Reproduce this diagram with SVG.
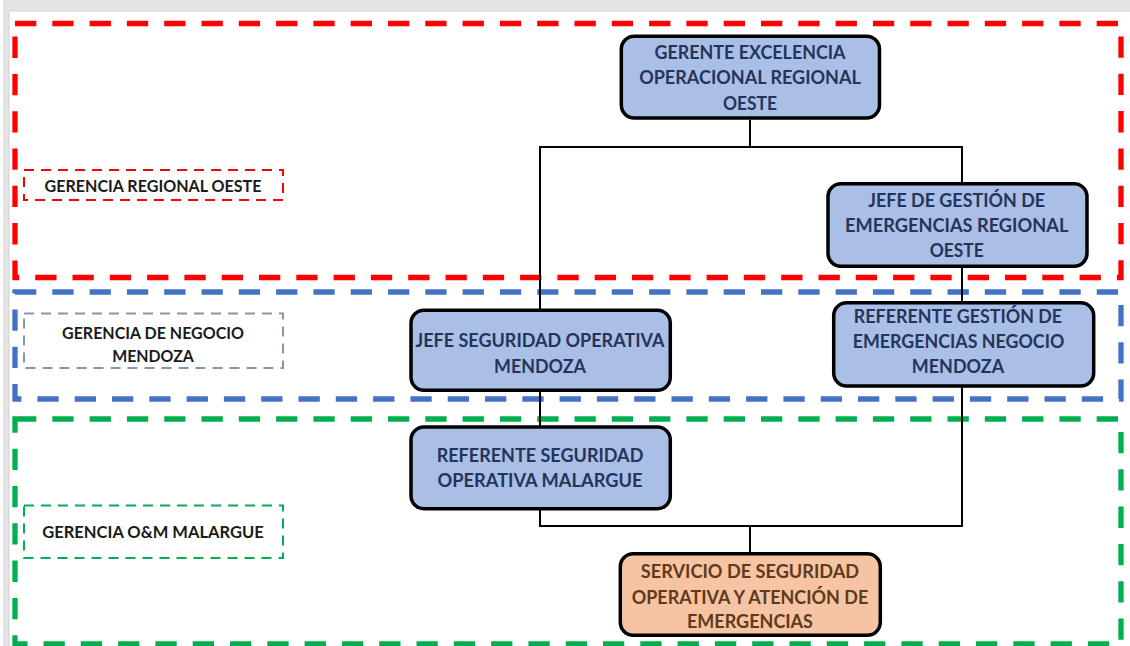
<svg xmlns="http://www.w3.org/2000/svg" width="1130" height="646" viewBox="0 0 1130 646">
  <style>
    .frame { fill: none; stroke-width: 5.3; stroke-dasharray: 21.3 16; }
    .tag { fill: #ffffff; stroke-width: 2; stroke-dasharray: 10 7; }
    .tagtxt { font-family: Lato, "Liberation Sans", sans-serif; font-weight: bold; font-size: 17.5px; fill: #1a1a1a; text-anchor: middle; }
    .box { fill: #AABFE5; stroke: #000000; stroke-width: 3.5; }
    .box.orange { fill: #F6C4A2; }
    .txt { font-family: Lato, "Liberation Sans", sans-serif; font-weight: bold; font-size: 19.5px; fill: #25345A; text-anchor: middle; }
    .txt.brown { fill: #603A1C; }
    .wire { fill: none; stroke: #000000; stroke-width: 2; }
  </style>

  <!-- page backdrop -->
  <rect x="0" y="0" width="1130" height="646" fill="#ffffff"/>
  <rect x="3" y="0" width="1127" height="11" fill="#e4e4e4"/>
  <rect x="3" y="0" width="6" height="646" fill="#e4e4e4"/>
  <path d="M9 646 V11 H1130" fill="none" stroke="#d2d2d2" stroke-width="1"/>

  <!-- organisational areas -->
  <g id="areas">
    <rect id="area-regional" class="frame" x="15" y="23.5" width="1106" height="254" stroke="#FF0000"/>
    <rect id="area-negocio" class="frame" x="15" y="292" width="1106" height="107" stroke="#4472C4"/>
    <rect id="area-malargue" class="frame" x="15" y="419" width="1106" height="225" stroke="#00B050"/>
  </g>

  <!-- connectors -->
  <g id="connectors">
    <path class="wire" d="M750 119.7 V147"/>
    <path class="wire" d="M540 310 V147 H962 V183.7"/>
    <path class="wire" d="M962 266 V302.7"/>
    <path class="wire" d="M540 390 V427"/>
    <path class="wire" d="M540 508.7 V526 H962 V386"/>
    <path class="wire" d="M750 526 V553.7"/>
  </g>

  <!-- area tags -->
  <g id="tag-regional">
    <rect class="tag" x="24" y="170" width="259" height="30" stroke="#FF0000"/>
    <text class="tagtxt" x="153" y="191.7" textLength="217" lengthAdjust="spacingAndGlyphs">GERENCIA REGIONAL OESTE</text>
  </g>
  <g id="tag-negocio">
    <rect class="tag" x="24" y="313.5" width="259" height="54.5" stroke="#8497B0"/>
    <text class="tagtxt" x="153" y="339.3" textLength="182" lengthAdjust="spacingAndGlyphs">GERENCIA DE NEGOCIO</text>
    <text class="tagtxt" x="153" y="362" textLength="81.7" lengthAdjust="spacingAndGlyphs">MENDOZA</text>
  </g>
  <g id="tag-malargue">
    <rect class="tag" x="24" y="505.5" width="259" height="52.5" stroke="#00B050"/>
    <text class="tagtxt" x="153" y="537.7" textLength="221.7" lengthAdjust="spacingAndGlyphs">GERENCIA O&amp;M MALARGUE</text>
  </g>

  <!-- positions -->
  <g id="gerente-excelencia">
    <rect class="box" x="621.3" y="36.2" width="258.2" height="81.8" rx="13"/>
    <text class="txt" x="750" y="58.5" textLength="191" lengthAdjust="spacingAndGlyphs">GERENTE EXCELENCIA</text>
    <text class="txt" x="750" y="84" textLength="221.7" lengthAdjust="spacingAndGlyphs">OPERACIONAL REGIONAL</text>
    <text class="txt" x="750" y="109.5" textLength="54" lengthAdjust="spacingAndGlyphs">OESTE</text>
  </g>

  <g id="jefe-gestion-emergencias">
    <rect class="box" x="828" y="183.7" width="259" height="82.6" rx="13"/>
    <text class="txt" x="956.7" y="206.6" textLength="176.7" lengthAdjust="spacingAndGlyphs">JEFE DE GESTIÓN DE</text>
    <text class="txt" x="956.7" y="231.7" textLength="223.3" lengthAdjust="spacingAndGlyphs">EMERGENCIAS REGIONAL</text>
    <text class="txt" x="956.7" y="257" textLength="54" lengthAdjust="spacingAndGlyphs">OESTE</text>
  </g>

  <g id="jefe-seguridad-mendoza">
    <rect class="box" x="411" y="310.3" width="259.3" height="80" rx="13"/>
    <text class="txt" x="540" y="346.7" textLength="249" lengthAdjust="spacingAndGlyphs">JEFE SEGURIDAD OPERATIVA</text>
    <text class="txt" x="540" y="372.7" textLength="92" lengthAdjust="spacingAndGlyphs">MENDOZA</text>
  </g>

  <g id="referente-gestion-mendoza">
    <rect class="box" x="833.7" y="302.7" width="260" height="83.3" rx="13"/>
    <text class="txt" x="958" y="323.3" textLength="208.3" lengthAdjust="spacingAndGlyphs">REFERENTE GESTIÓN DE</text>
    <text class="txt" x="958.5" y="348.3" textLength="211.7" lengthAdjust="spacingAndGlyphs">EMERGENCIAS NEGOCIO</text>
    <text class="txt" x="958" y="373.3" textLength="92.3" lengthAdjust="spacingAndGlyphs">MENDOZA</text>
  </g>

  <g id="referente-seguridad-malargue">
    <rect class="box" x="411" y="427" width="259.3" height="81.7" rx="13"/>
    <text class="txt" x="540" y="462.3" textLength="206.7" lengthAdjust="spacingAndGlyphs">REFERENTE SEGURIDAD</text>
    <text class="txt" x="540" y="487.3" textLength="205" lengthAdjust="spacingAndGlyphs">OPERATIVA MALARGUE</text>
  </g>

  <g id="servicio-seguridad">
    <rect class="box orange" x="620.3" y="553.7" width="260" height="81.6" rx="13"/>
    <text class="txt brown" x="750" y="578.3" textLength="218.3" lengthAdjust="spacingAndGlyphs">SERVICIO DE SEGURIDAD</text>
    <text class="txt brown" x="750" y="604" textLength="236.7" lengthAdjust="spacingAndGlyphs">OPERATIVA Y ATENCIÓN DE</text>
    <text class="txt brown" x="750" y="628.3" textLength="126" lengthAdjust="spacingAndGlyphs">EMERGENCIAS</text>
  </g>
</svg>
